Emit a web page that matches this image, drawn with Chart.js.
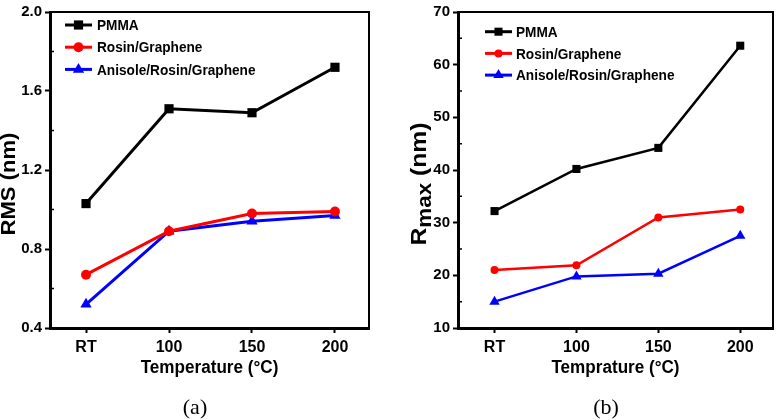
<!DOCTYPE html>
<html>
<head>
<meta charset="utf-8">
<script src="https://cdn.jsdelivr.net/npm/chart.js@4.4.0/dist/chart.umd.min.js"></script>
<style>
  body { margin: 0; background: #fff; }
  #wrap { position: relative; width: 779px; height: 420px; overflow: hidden; }
  .panel { position: absolute; top: 0; height: 420px; }
  .cap { position: absolute; top: 394px; font: 22px "Liberation Serif", "Times New Roman", serif; color: #000; transform: translateX(-50%); }
</style>
</head>
<body>
<div id="wrap">
  <div class="panel" style="left:0;width:389px"><canvas id="chartRms"></canvas></div>
  <div class="panel" style="left:389px;width:390px"><canvas id="chartRmax"></canvas></div>
  <div class="cap" style="left:195px">(a)</div>
  <div class="cap" style="left:606px">(b)</div>
</div>
<script>
// eje x comun
const xLabels = ['RT', '100', '150', '200'];
const seriesNames = ['PMMA', 'Rosin/Graphene', 'Anisole/Rosin/Graphene'];

// (a) RMS (nm)
const rmsTicks = [0.4, 0.8, 1.2, 1.6, 2.0];
const rmsPmma = [1.03, 1.51, 1.49, 1.72];
const rmsRosin = [0.67, 0.89, 0.98, 0.99];
const rmsAnisole = [0.52, 0.89, 0.94, 0.97];

// (b) Rmax (nm)
const rmaxTicks = [10, 20, 30, 40, 50, 60, 70];
const rmaxPmma = [32.2, 40.2, 44.2, 63.6];
const rmaxRosin = [21.0, 21.9, 31.0, 32.5];
const rmaxAnisole = [15.0, 19.8, 20.3, 27.5];

const colores = ['#000000', '#ff0000', '#0000ff'];
const estilos = ['rect', 'circle', 'triangle'];
const FONT = '"Liberation Sans", Arial, sans-serif';

function toPoints(vals) {
    return vals.map((v, i) => ({ x: i, y: v }));
}

function drawMarker(ctx, style, x, y, r) {
    ctx.beginPath();
    if (style === 'rect') {
        const s = r * Math.SQRT1_2;
        ctx.rect(x - s, y - s, 2 * s, 2 * s);
    } else if (style === 'circle') {
        ctx.arc(x, y, r, 0, Math.PI * 2);
    } else {
        ctx.moveTo(x, y - r);
        ctx.lineTo(x + r * 0.866, y + r * 0.5);
        ctx.lineTo(x - r * 0.866, y + r * 0.5);
        ctx.closePath();
    }
    ctx.fill();
}

// texto algo comprimido a lo ancho, como en la figura original
function textoAncho(ctx, txt, x, y, sx) {
    ctx.save();
    ctx.translate(x, y);
    ctx.scale(sx, 1);
    ctx.fillText(txt, 0, 0);
    ctx.restore();
}

// marco, ticks menores, leyenda y titulos
const marcoPlugin = {
    id: 'marco',
    afterDraw(chart, args, o) {
        const ctx = chart.ctx;
        const a = chart.chartArea;
        const ys = chart.scales.y;
        ctx.save();
        ctx.strokeStyle = '#000';
        ctx.lineWidth = 2;
        ctx.beginPath();
        ctx.moveTo(a.left, a.top);
        ctx.lineTo(a.right, a.top);
        ctx.lineTo(a.right, a.bottom);
        ctx.stroke();
        // ticks menores hacia adentro
        ctx.lineWidth = 1.5;
        ctx.beginPath();
        for (let k = 0; k < o.ticks.length - 1; k++) {
            const y = ys.getPixelForValue((o.ticks[k] + o.ticks[k + 1]) / 2);
            ctx.moveTo(a.left, y);
            ctx.lineTo(a.left + 4, y);
        }
        ctx.stroke();
        // leyenda
        ctx.font = 'bold 15px ' + FONT;
        ctx.textBaseline = 'middle';
        chart.data.datasets.forEach((ds, i) => {
            const y = o.legY + i * o.legDy;
            ctx.strokeStyle = ds.borderColor;
            ctx.fillStyle = ds.borderColor;
            ctx.lineWidth = 3;
            ctx.beginPath();
            ctx.moveTo(a.left + o.legX0, y);
            ctx.lineTo(a.left + o.legX1, y);
            ctx.stroke();
            drawMarker(ctx, ds.pointStyle, a.left + (o.legX0 + o.legX1) / 2, y, ds.pointRadius);
            ctx.fillStyle = '#000';
            ctx.textAlign = 'left';
            textoAncho(ctx, ds.label, a.left + o.legText, y + 1, 0.91);
        });
        // titulo eje x
        ctx.fillStyle = '#000';
        ctx.font = 'bold 18px ' + FONT;
        ctx.textAlign = 'center';
        ctx.textBaseline = 'middle';
        textoAncho(ctx, o.xTitle, (a.left + a.right) / 2, 368, 0.95);
        // titulo eje y (rotado)
        ctx.translate(o.yTitleX, 184);
        ctx.rotate(-Math.PI / 2);
        ctx.scale(o.yStretch, 1);
        ctx.textBaseline = 'alphabetic';
        ctx.textAlign = 'left';
        const partes = o.yTitle;
        let total = 0;
        for (const p of partes) {
            ctx.font = 'bold ' + p.size + 'px ' + FONT;
            total += ctx.measureText(p.t).width;
        }
        let u = -total / 2;
        for (const p of partes) {
            ctx.font = 'bold ' + p.size + 'px ' + FONT;
            ctx.fillText(p.t, u, p.dy || 0);
            u += ctx.measureText(p.t).width;
        }
        ctx.restore();
    }
};

function crearGrafica(id, valores, ticks, decimales, radios, lw, geo, extra) {
    const datasets = [];
    for (let j = 0; j < valores.length; j++) {
        datasets.push({
            label: seriesNames[j],
            data: toPoints(valores[j]),
            borderColor: colores[j],
            backgroundColor: colores[j],
            pointBackgroundColor: colores[j],
            pointBorderColor: colores[j],
            pointStyle: estilos[j],
            pointRadius: radios[j],
            pointBorderWidth: 0,
            borderWidth: lw,
            tension: 0,
            clip: false
        });
    }
    const config = {
        type: 'line',
        data: { datasets: datasets },
        options: {
            responsive: true,
            maintainAspectRatio: false,
            animation: false,
            layout: { padding: { top: geo.top, right: geo.right, bottom: 0, left: 0 } },
            plugins: {
                legend: { display: false },
                tooltip: { enabled: false },
                marco: extra
            },
            scales: {
                x: {
                    type: 'linear',
                    min: geo.xmin,
                    max: geo.xmax,
                    afterBuildTicks: (s) => { s.ticks = xLabels.map((_, i) => ({ value: i })); },
                    afterFit: (s) => { s.height = 420 - geo.bottom; },
                    border: { display: true, color: '#000', width: 3 },
                    grid: { drawOnChartArea: false, drawTicks: true, tickLength: 5, tickWidth: 2, tickColor: '#000' },
                    ticks: {
                        color: '#000',
                        padding: 5,
                        maxRotation: 0,
                        font: { family: FONT, size: 16, weight: 'bold' },
                        callback: (v) => xLabels[v]
                    }
                },
                y: {
                    min: ticks[0],
                    max: ticks[ticks.length - 1],
                    afterBuildTicks: (s) => { s.ticks = ticks.map(v => ({ value: v })); },
                    afterFit: (s) => { s.width = geo.left; },
                    border: { display: true, color: '#000', width: 3 },
                    grid: { drawOnChartArea: false, drawTicks: true, tickLength: 5, tickWidth: 2, tickColor: '#000' },
                    ticks: {
                        color: '#000',
                        padding: 3,
                        font: { family: FONT, size: 15, weight: 'bold' },
                        callback: (v) => Number(v).toFixed(decimales)
                    }
                }
            }
        },
        plugins: [marcoPlugin]
    };
    return new Chart(document.getElementById(id), config);
}

const chartA = crearGrafica('chartRms',
    [rmsPmma, rmsRosin, rmsAnisole], rmsTicks, 1, [6.5, 5, 6.5], 3,
    { top: 8, right: 20, left: 50, bottom: 328, xmin: -0.434, xmax: 3.41 },
    {
        ticks: rmsTicks,
        legX0: 15, legX1: 42, legText: 47, legY: 25, legDy: 22.2,
        xTitle: 'Temperature (\u00B0C)',
        yTitleX: 15, yStretch: 1.05,
        yTitle: [{ t: 'RMS (nm)', size: 21 }]
    });

const chartB = crearGrafica('chartRmax',
    [rmaxPmma, rmaxRosin, rmaxAnisole], rmaxTicks, 0, [5.7, 4, 6], 2.5,
    { top: 8, right: 2, left: 69, bottom: 328, xmin: -0.446, xmax: 3.40 },
    {
        ticks: rmaxTicks,
        legX0: 27, legX1: 54, legText: 58, legY: 31.7, legDy: 21.7,
        xTitle: 'Temprature (\u00B0C)',
        yTitleX: 37, yStretch: 1.12,
        yTitle: [{ t: 'R', size: 22 }, { t: 'max', size: 20, dy: 5 }, { t: ' (nm)', size: 22 }]
    });
</script>
</body>
</html>
